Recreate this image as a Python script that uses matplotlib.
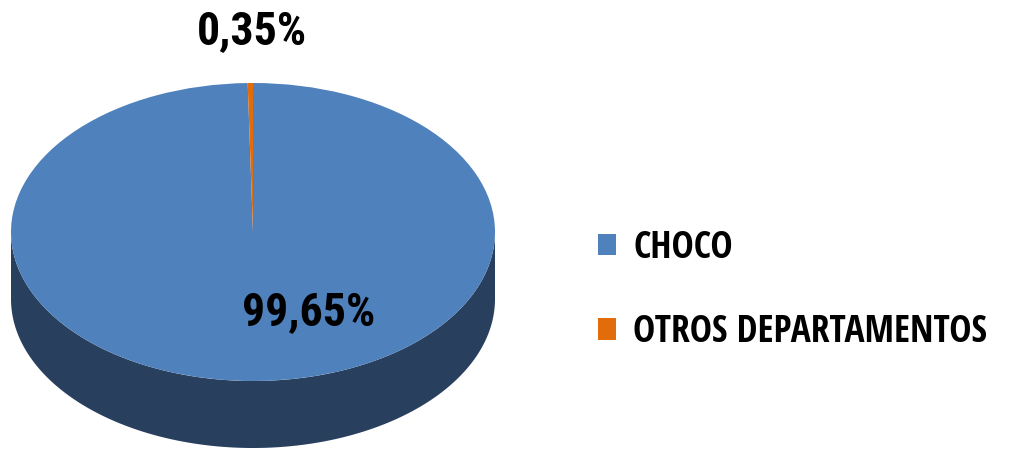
import numpy as np
import matplotlib
matplotlib.use("Agg")
import matplotlib.pyplot as plt

# data
categories = ["CHOCO", "OTROS DEPARTAMENTOS"]
values = [99.65, 0.35]
colors = ["#4F81BD", "#E36C0A"]
side_color = "#283F5E"

# figure geometry (pixels)
W, H = 1020, 449
cx, cy = 253, 232      # centre of the top ellipse
rx, ry = 242, 149      # radii of the top ellipse
depth = 67             # thickness of the 3d side

fig = plt.figure(figsize=(W / 100, H / 100), dpi=100)
ax = fig.add_axes([0, 0, 1, 1])

# side of the cylinder (front half only is visible)
t = np.linspace(np.pi, 2 * np.pi, 200)
d = depth / ry
xs = np.concatenate([np.cos(t), np.cos(t[::-1])])
ys = np.concatenate([np.sin(t), np.sin(t[::-1]) - d])
ax.fill(xs, ys, color=side_color, zorder=1, lw=0)

# top face
wedges, _ = ax.pie(values, colors=colors, startangle=90, counterclock=False,
                   radius=1, center=(0, 0), frame=True,
                   wedgeprops=dict(linewidth=0))
for w in wedges:
    w.set_zorder(2)

ax.set_aspect("auto")
ax.set_xlim(-cx / rx, (W - cx) / rx)
ax.set_ylim(-(H - cy) / ry, cy / ry)
ax.axis("off")

# labels
pct_font = ["Roboto Condensed", "DejaVu Sans"]
leg_font = ["Open Sans Condensed", "DejaVu Sans"]
lbl = [f"{v:.2f}%".replace(".", ",") for v in values]
ax.text((309 - cx) / rx, (cy - 312) / ry, lbl[0], ha="center", va="center",
        fontsize=33, fontweight="bold", family=pct_font, zorder=5)
ax.text((252 - cx) / rx, (cy - 31) / ry, lbl[1], ha="center", va="center",
        fontsize=33, fontweight="bold", family=pct_font, zorder=5)

# legend
leg = fig.legend(wedges, categories, loc="center left",
                 bbox_to_anchor=(579 / W, 1 - 290 / H),
                 frameon=False, handlelength=0.5, handleheight=0.5,
                 handletextpad=0.45, labelspacing=1.25, borderpad=0,
                 prop=dict(family=leg_font, weight="bold", size=27))

fig.savefig("out.png", dpi=100)
